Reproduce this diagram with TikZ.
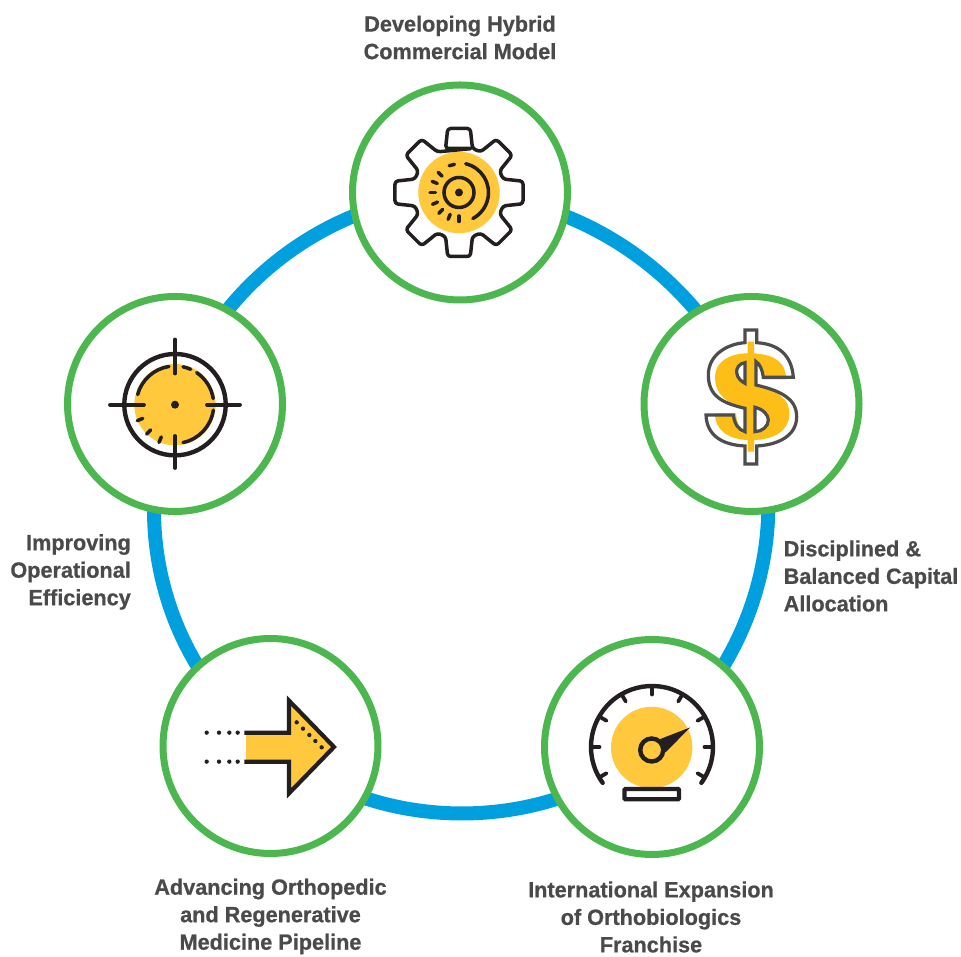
\documentclass[tikz,border=0pt]{standalone}
\usepackage{fontspec}
\usetikzlibrary{backgrounds}
\setmainfont[BoldFeatures={FakeStretch=0.985,FakeBold=0.7}]{Liberation Sans}
\definecolor{ringblue}{HTML}{00A0DF}
\definecolor{ringgreen}{HTML}{4BB74E}
\definecolor{iconyellow}{HTML}{FFC83D}
\definecolor{dollaryellow}{HTML}{FDBE17}
\definecolor{icondark}{HTML}{231F20}
\definecolor{dollarline}{HTML}{4D4D4D}
\definecolor{labelgray}{HTML}{4A4A4A}
\tikzset{
  disc/.style={circle,draw=ringgreen,fill=white,line width=7pt,minimum size=215pt,inner sep=0pt,outer sep=0pt},
  ringlink/.style={draw=ringblue,line width=14pt,looseness=0.93},
  label/.style={font=\bfseries\fontsize{22}{27.5}\selectfont,text=labelgray,inner sep=0pt},
  ink/.style={draw=icondark,line width=3.5pt,line cap=round},
  heavy/.style={ink,line width=4.4pt},
  halo/.style={fill=iconyellow,draw=none},
  dollarink/.style={draw=dollarline,line width=3.2pt,miter limit=6},
  zoomed/.style={x=0.3333pt,y=-0.3333pt}
}
\begin{document}
\begin{tikzpicture}[x=1pt,y=1pt]
\useasboundingbox (0,0) rectangle (961,957);
\node[disc] (top) at (460,764.5) {};
\node[disc] (right) at (751.5,553) {};
\node[disc] (lowright) at (652,210) {};
\node[disc] (lowleft) at (270.5,211) {};
\node[disc] (left) at (175,553) {};
\begin{scope}[on background layer]
\draw[ringlink] (top.center) to[bend left=32.6] (right.center);
\draw[ringlink] (right.center) to[bend left=35.4] (lowright.center);
\draw[ringlink] (lowright.center) to[bend left=40] (lowleft.center);
\draw[ringlink] (lowleft.center) to[bend left=38.2] (left.center);
\draw[ringlink] (left.center) to[bend left=34.1] (top.center);
\end{scope}
% gear
\begin{scope}[shift={(top.center)},shift={(-1,0)}]
  \fill[halo] (0,0) circle (40.7);
  \draw[ink,rounded corners=3pt,line join=round]
    (73:46) \foreach \t in {90,45,0,-45,-90,-135,180,135} { -- ({\t+17}:46) -- ({\t+10}:65) -- ({\t-10}:65) -- ({\t-17}:46) } -- cycle;
  \fill[icondark] (0,0) circle (4);
  \draw[ink] (0,0) circle (15);
  \draw[ink] (76.8:29.5) arc[start angle=76.8,end angle=-62,radius=29.5];
  \draw[ink] (99:28.5) arc[start angle=99,end angle=110,radius=28.5];
  \foreach \a in {136,157.5,180,204,226,248,270}
    \draw[ink] (\a:23.5) -- (\a:29);
\end{scope}
% dollar
\begin{scope}[shift={(right.center)},zoomed,shift={(-214.5,-252)}]
  \fill[dollaryellow] (203,65) -- (222,65) -- (222,100) .. controls (290,105) and (318,130) .. (318,178) -- (250,178)
    .. controls (245,150) and (235,130) .. (228,125) -- (228,195) .. controls (300,215) and (328,240) .. (328,280)
    .. controls (328,335) and (280,358) .. (222,360) -- (222,395) -- (203,395) -- (203,360)
    .. controls (150,358) and (105,335) .. (105,280) -- (168,280) .. controls (170,310) and (180,330) .. (195,335)
    -- (195,265) .. controls (140,250) and (105,225) .. (105,170) .. controls (105,125) and (150,100) .. (203,100) -- cycle;
  \draw[dollarink] (195,30) -- (230,30) -- (230,68) .. controls (295,72) and (335,105) .. (340,172) -- (250,172)
    .. controls (247,150) and (240,132) .. (228,125) -- (228,195) .. controls (300,212) and (350,235) .. (350,290)
    .. controls (350,350) and (290,375) .. (230,378) -- (230,432) -- (195,432) -- (195,378)
    .. controls (125,375) and (80,345) .. (78,285) -- (160,285) .. controls (163,310) and (175,330) .. (195,335)
    -- (195,265) .. controls (130,250) and (85,230) .. (85,165) .. controls (85,105) and (140,72) .. (195,68) -- cycle;
  \draw[dollarink,fill=white] (195,128) .. controls (178,130) and (168,145) .. (170,158) .. controls (172,175) and (185,185) .. (195,190) -- cycle;
  \draw[dollarink,fill=white] (225,262) .. controls (250,268) and (265,285) .. (265,300) .. controls (265,320) and (245,335) .. (225,335) -- cycle;
\end{scope}
% speedometer
\begin{scope}[shift={(lowright.center)}]
  \fill[halo] (-0.3,-0.5) circle (40.7);
  \draw[heavy] (-36:61) arc[start angle=-36,end angle=216,radius=61];
  \foreach \a in {-30,0,...,210}
    \draw[ink,line width=3.8pt] (\a:61) -- (\a:52.5);
  \fill[icondark] (7,7.5) -- (38,19.5) -- (13.5,-5.5) -- cycle;
  \draw[heavy,fill=iconyellow] (-0.3,-3) circle (11.5);
  \draw[icondark,line width=4.4pt,fill=white,rounded corners=1pt] (-27.5,-42) rectangle (27,-52.3);
\end{scope}
% arrow
\begin{scope}[shift={(lowleft.center)},zoomed,shift={(-241.5,-198)}]
  \fill[iconyellow] (168,158) -- (297,158) -- (297,62) -- (432,201) -- (297,340) -- (297,245) -- (168,245) -- cycle;
  \draw[icondark,line width=4.2pt,miter limit=8] (163,158) -- (297,158) -- (297,62) -- (432,201) -- (297,340) -- (297,245) -- (163,245);
  \fill[icondark] \foreach \x in {50,87,118,143} { (\x,158) circle (6.5) (\x,245) circle (6.5) };
  \fill[icondark] \foreach \x/\y in {320/127,339/146,358/165,376/183,395/202} { (\x,\y) circle (6.5) };
\end{scope}
% target
\begin{scope}[shift={(left.center)}]
  \fill[halo] (0,-0.7) circle (40.7);
  \draw[heavy] (0,-0.7) circle (50.7);
  \draw[ink,line width=3.8pt] (-65,-0.7) -- (-31,-0.7) (32,-0.7) -- (65,-0.7) (0,64.5) -- (0,30.5) (0,-32) -- (0,-64);
  \fill[icondark] (0,-0.7) circle (4);
  \begin{scope}[shift={(0,-0.7)}]
    \draw[ink] (99:38.7) arc[start angle=99,end angle=165,radius=38.7];
    \draw[ink] (78:38.7) arc[start angle=78,end angle=66,radius=38.7];
    \draw[ink] (56:38.7) arc[start angle=56,end angle=9,radius=38.7];
    \draw[ink] (-8:38.7) arc[start angle=-8,end angle=-78,radius=38.7];
    \foreach \a in {203,226,247}
      \draw[ink] (\a:35) -- (\a:41);
  \end{scope}
\end{scope}
% labels
\node[label,align=center] (toplabel) at (460,919.5) {Developing Hybrid\\Commercial Model};
\node[label,align=left,anchor=west] (rightlabel) at (783.5,381) {Disciplined \&\\Balanced Capital\\Allocation};
\node[label,align=center] (lowrightlabel) at (651,40) {International Expansion\\of Orthobiologics\\Franchise};
\node[label,align=center] (lowleftlabel) at (270.5,40.5) {Advancing Orthopedic\\and Regenerative\\Medicine Pipeline};
\node[label,align=right,anchor=east] (leftlabel) at (131,385) {Improving\\Operational\\Efficiency};
\end{tikzpicture}
\end{document}
